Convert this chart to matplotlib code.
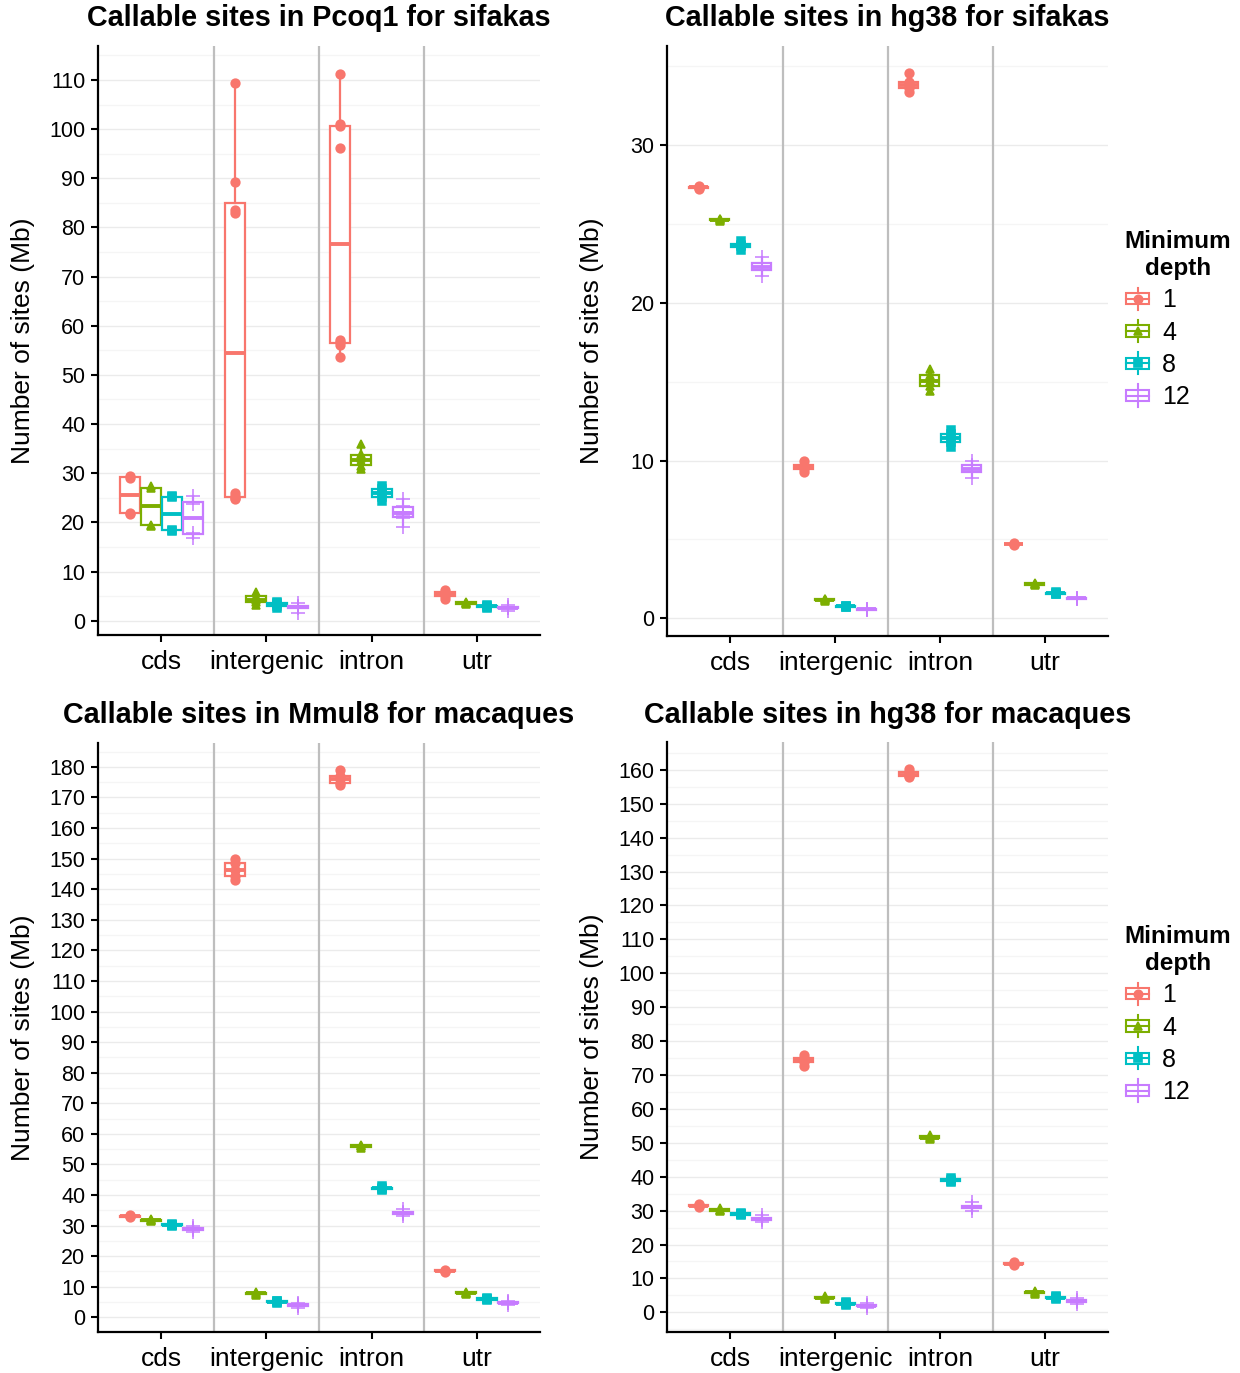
import numpy as np
import matplotlib
matplotlib.use("Agg")
import matplotlib.pyplot as plt
from matplotlib.ticker import MultipleLocator
from matplotlib.legend_handler import HandlerBase
from matplotlib.lines import Line2D
from matplotlib.patches import Rectangle

plt.rcParams['font.family'] = ['Liberation Sans', 'DejaVu Sans']

# ---- data (Mb), one list per minimum depth: 1, 4, 8, 12 ----
regions = ['cds', 'intergenic', 'intron', 'utr']
depths = ['1', '4', '8', '12']
colors = ['#F8766D', '#7CAE00', '#00BFC4', '#C77CFF']
markers = ['o', '^', 's', '+']

# Pcoq1, sifakas
pcoq1_cds = [[21.7, 21.9, 29.1, 29.4], [19.3, 19.5, 27.0, 27.3],
             [18.3, 18.5, 25.1, 25.4], [16.8, 17.9, 23.8, 25.3]]
pcoq1_intergenic = [[24.8, 25.0, 25.3, 26.0, 82.9, 83.6, 89.3, 109.3],
                    [3.2, 3.8, 4.3, 5.0, 5.8], [2.6, 3.0, 3.3, 3.6, 3.9],
                    [1.6, 2.5, 2.7, 2.9, 3.6]]
pcoq1_intron = [[53.6, 56.0, 56.6, 57.1, 96.1, 100.6, 101.0, 111.3],
                [30.8, 31.5, 32.5, 33.0, 34.0, 36.0],
                [24.3, 25.2, 26.0, 26.7, 27.5],
                [19.0, 20.8, 21.6, 22.2, 23.4, 24.8]]
pcoq1_utr = [[4.4, 5.0, 5.4, 5.9, 6.3], [3.3, 3.5, 3.7, 3.9],
             [2.6, 2.8, 3.0, 3.1], [1.9, 2.5, 2.6, 2.7, 3.2]]

# hg38, sifakas
hg38s_cds = [[27.2, 27.3, 27.35, 27.4], [25.2, 25.25, 25.3, 25.35],
             [23.35, 23.6, 23.7, 23.9], [21.7, 22.1, 22.3, 22.5, 22.9]]
hg38s_intergenic = [[9.3, 9.45, 9.6, 9.75, 10.0], [1.1, 1.15, 1.2, 1.25],
                    [0.7, 0.75, 0.78, 0.8], [0.5, 0.55, 0.6, 0.62]]
hg38s_intron = [[33.35, 33.6, 33.8, 34.0, 34.55], [14.4, 14.75, 15.05, 15.4, 15.8],
                [10.85, 11.15, 11.45, 11.7, 11.95], [8.9, 9.25, 9.5, 9.7, 10.0]]
hg38s_utr = [[4.65, 4.7, 4.72, 4.78], [2.1, 2.15, 2.2, 2.25],
             [1.52, 1.57, 1.6, 1.65], [1.2, 1.25, 1.3, 1.32]]

# Mmul8, macaques
mmul8_cds = [[32.7, 33.0, 33.2, 33.5], [31.4, 31.7, 31.9, 32.2],
             [29.8, 30.1, 30.3, 30.6], [28.0, 28.6, 28.9, 29.2, 29.8]]
mmul8_intergenic = [[143.1, 144.3, 146.4, 148.6, 150.0], [7.3, 7.7, 7.9, 8.2],
                    [4.6, 5.0, 5.2, 5.5], [3.0, 3.6, 3.9, 4.2, 4.8]]
mmul8_intron = [[174.0, 174.6, 175.9, 177.1, 179.1], [55.5, 55.9, 56.1, 56.5],
                [41.5, 42.0, 42.3, 42.8], [33.0, 33.7, 34.0, 34.3, 35.3]]
mmul8_utr = [[14.9, 15.1, 15.3, 15.5], [7.6, 7.9, 8.1, 8.4],
             [5.6, 5.9, 6.1, 6.4], [3.9, 4.6, 4.8, 5.0, 5.5]]

# hg38, macaques
hg38m_cds = [[31.2, 31.4, 31.6, 31.9], [29.8, 30.1, 30.3, 30.7],
             [28.6, 28.9, 29.1, 29.4], [26.6, 27.3, 27.6, 27.9, 28.6]]
hg38m_intergenic = [[72.6, 73.8, 74.5, 75.1, 75.8], [3.9, 4.2, 4.4, 4.8],
                    [2.2, 2.5, 2.7, 3.0], [1.2, 1.8, 2.0, 2.2, 2.9]]
hg38m_intron = [[157.8, 158.3, 158.6, 159.3, 160.2], [51.0, 51.4, 51.7, 52.4],
                [38.4, 38.8, 39.1, 39.6], [30.0, 30.9, 31.2, 31.5, 32.5]]
hg38m_utr = [[14.1, 14.3, 14.5, 14.7], [5.5, 5.8, 6.0, 6.4],
             [3.9, 4.2, 4.4, 4.7], [2.5, 3.1, 3.3, 3.5, 4.2]]

titles = ['Callable sites in Pcoq1 for sifakas', 'Callable sites in hg38 for sifakas',
          'Callable sites in Mmul8 for macaques', 'Callable sites in hg38 for macaques']
panel_data = [[pcoq1_cds, pcoq1_intergenic, pcoq1_intron, pcoq1_utr],
              [hg38s_cds, hg38s_intergenic, hg38s_intron, hg38s_utr],
              [mmul8_cds, mmul8_intergenic, mmul8_intron, mmul8_utr],
              [hg38m_cds, hg38m_intergenic, hg38m_intron, hg38m_utr]]

# ---- layout (pixels of a 1240x1373 canvas) ----
W, H = 1240, 1373
fig = plt.figure(figsize=(W / 100, H / 100), dpi=100)

# left, right, top, bottom of each plotting area
boxes_px = [(98, 540, 46, 635), (667, 1108, 46, 636),
            (98, 540, 743, 1332), (667, 1108, 742, 1332)]
ylims = [(-2.91, 116.9), (-1.12, 36.29), (-4.8, 187.8), (-5.8, 168.2)]
ysteps = [10, 10, 10, 10]

offsets = [-0.3, -0.1, 0.1, 0.3]
bw = 0.19


class BoxKey(HandlerBase):
    def create_artists(self, legend, orig_handle, xdescent, ydescent,
                       width, height, fontsize, trans):
        c = orig_handle.get_color()
        m = orig_handle.get_marker()
        x0, y0 = -xdescent, -ydescent
        cx, cy = x0 + width / 2, y0 + height / 2
        arts = [
            Line2D([cx, cx], [y0, y0 + 0.25 * height], color=c, lw=1.5),
            Line2D([cx, cx], [y0 + 0.75 * height, y0 + height], color=c, lw=1.5),
            Rectangle((x0 + 0.05 * width, y0 + 0.25 * height), 0.9 * width,
                      0.5 * height, facecolor='white', edgecolor=c, lw=1.5),
            Line2D([x0 + 0.05 * width, x0 + 0.95 * width], [cy, cy], color=c, lw=1.5),
            Line2D([cx], [cy], marker=m, color=c, markersize=6 if m != '+' else 9,
                   mew=1.2, linestyle='none'),
        ]
        for a in arts:
            a.set_transform(trans)
        return arts


for p in range(4):
    l, r, t, b = boxes_px[p]
    ax = fig.add_axes([l / W, 1 - b / H, (r - l) / W, (b - t) / H])
    data = panel_data[p]

    for gi, reg in enumerate(data):
        for di, vals in enumerate(reg):
            pos = gi + 1 + offsets[di]
            bp = ax.boxplot([vals], positions=[pos], widths=bw, patch_artist=True,
                            showfliers=False, showcaps=False, manage_ticks=False,
                            boxprops=dict(facecolor='white', edgecolor=colors[di], lw=1.6),
                            whiskerprops=dict(color=colors[di], lw=1.6),
                            medianprops=dict(color=colors[di], lw=2.8))
            for art in bp['boxes'] + bp['whiskers'] + bp['medians']:
                art.set_zorder(3)
            ms = 9.5 if markers[di] == '+' else 6.3
            ax.plot(np.full(len(vals), pos), vals, linestyle='none',
                    marker=markers[di], color=colors[di], markersize=ms,
                    mew=1.1, zorder=4)

    for sep in [1.5, 2.5, 3.5]:
        ax.axvline(sep, color='#BEBEBE', lw=1.6, zorder=1)

    ax.set_xlim(0.4, 4.6)
    ax.set_ylim(*ylims[p])
    ax.yaxis.set_major_locator(MultipleLocator(ysteps[p]))
    ax.yaxis.set_minor_locator(MultipleLocator(ysteps[p] / 2))
    ax.grid(axis='y', which='major', color='#EBEBEB', lw=1.0, zorder=0)
    ax.grid(axis='y', which='minor', color='#F5F5F5', lw=1.0, zorder=0)
    ax.set_axisbelow(True)
    ax.set_xticks([1, 2, 3, 4])
    ax.set_xticklabels(regions, fontsize=19)
    ax.tick_params(axis='y', which='major', labelsize=15.5, length=5, width=1.5, pad=4)
    ax.tick_params(axis='x', which='major', length=5, width=1.5, pad=6)
    ax.tick_params(which='minor', length=0)
    for s in ['top', 'right']:
        ax.spines[s].set_visible(False)
    for s in ['left', 'bottom']:
        ax.spines[s].set_linewidth(1.6)

    ax.set_ylabel('Number of sites (Mb)', fontsize=19)
    ax.yaxis.set_label_coords((35 - l) / (r - l) if p % 2 == 0 else (604 - l) / (r - l), 0.5)
    ax.text(0.5, 1 + (t - 18 if p < 2 else t - 715) / (b - t), titles[p],
            transform=ax.transAxes, ha='center', va='center',
            fontsize=20.7, fontweight='bold')

    if p % 2 == 1:
        handles = [Line2D([], [], color=colors[i], marker=markers[i]) for i in range(4)]
        top_px = 213 if p == 1 else 908
        leg = fig.legend(handles, depths, loc='upper left',
                         bbox_to_anchor=(1107 / W, 1 - top_px / H),
                         frameon=False, fontsize=18, title='Minimum\ndepth',
                         title_fontproperties={'weight': 'bold', 'size': 17.5},
                         handler_map={Line2D: BoxKey()}, handlelength=1.05,
                         handleheight=1.0, handletextpad=0.45, labelspacing=0.3,
                         alignment='left', borderpad=0.2)
        leg.get_title().set_multialignment('center')

fig.savefig('out.png', dpi=100)
